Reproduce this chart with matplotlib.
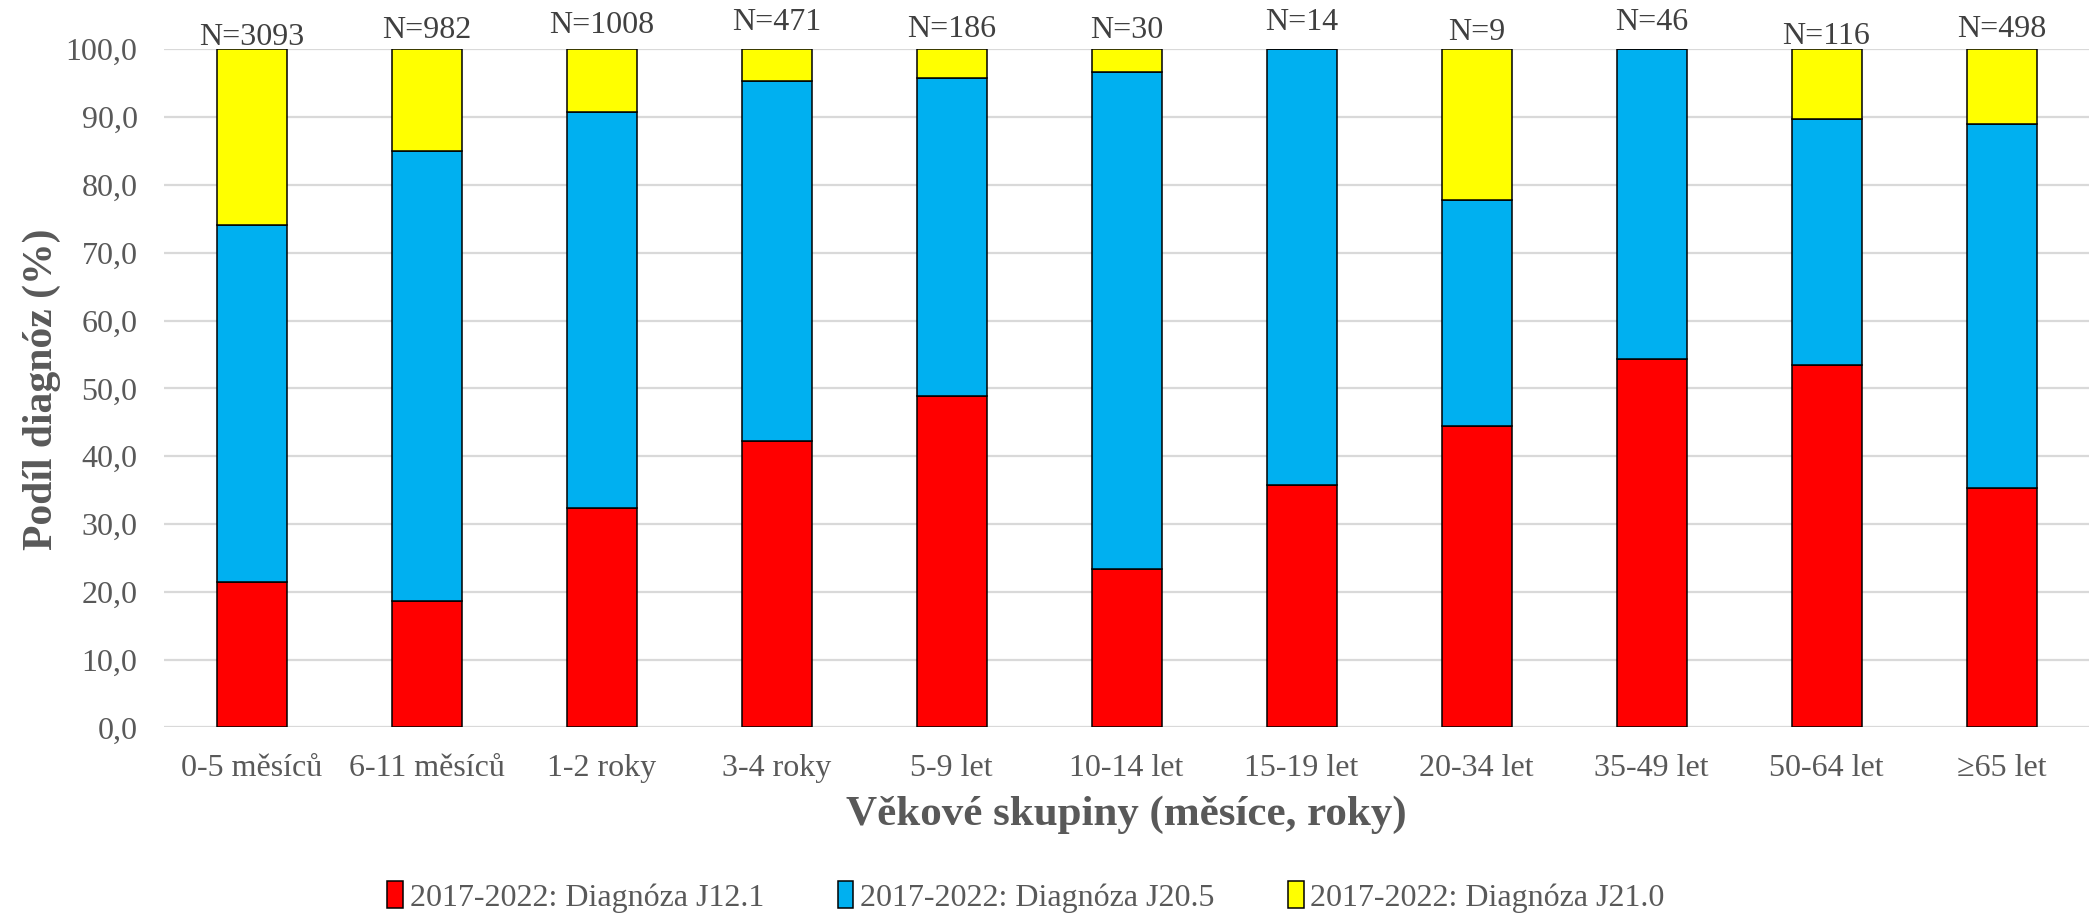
import matplotlib
matplotlib.use('Agg')
import matplotlib.pyplot as plt
from matplotlib.patches import Patch
import numpy as np

plt.rcParams['font.family'] = ['Liberation Serif', 'DejaVu Serif']

# Age groups and counts
categories = ['0-5 měsíců', '6-11 měsíců', '1-2 roky', '3-4 roky', '5-9 let',
              '10-14 let', '15-19 let', '20-34 let', '35-49 let', '50-64 let', '≥65 let']
n_counts = [3093, 982, 1008, 471, 186, 30, 14, 9, 46, 116, 498]

# Share of diagnoses (%)
j121 = [21.4, 18.6, 32.4, 42.2, 48.9, 23.3, 35.7, 44.4, 54.3, 53.4, 35.3]
j205 = [52.7, 66.4, 58.4, 53.1, 46.8, 73.4, 64.3, 33.4, 45.7, 36.3, 53.7]
j210 = [25.9, 15.0, 9.2, 4.7, 4.3, 3.3, 0.0, 22.2, 0.0, 10.3, 11.0]

series_names = ['2017-2022: Diagnóza J12.1', '2017-2022: Diagnóza J20.5',
                '2017-2022: Diagnóza J21.0']
colors = ['#ff0000', '#00b0f0', '#ffff00']

# label offsets above 100 % (points), like the hand-placed labels in the original
label_dy = [-9, -4, 0, 2, -3, -4, 2, -5, 2, -8, -3]

text_gray = '#595959'

fig = plt.figure(figsize=(20.89, 9.14), dpi=100)
ax = fig.add_axes([164 / 2089, (914 - 727.4) / 914, (2089 - 164) / 2089, (727.4 - 49.3) / 914])

x = np.arange(len(categories))
bottom = np.zeros(len(categories))
for vals, col in zip([j121, j205, j210], colors):
    vals = np.array(vals)
    ax.bar(x, vals, width=0.4, bottom=bottom, color=col,
           edgecolor='black', linewidth=1.1, zorder=3)
    bottom += vals

for xi, n, dy in zip(x, n_counts, label_dy):
    ax.annotate(f'N={n}', (xi, 100), xytext=(0, 7 + dy), textcoords='offset points',
                ha='center', va='bottom', fontsize=23, color='#404040')

ax.set_xlim(-0.5, len(categories) - 0.5)
ax.set_ylim(0, 100)
ax.set_yticks(np.arange(0, 101, 10))
ax.set_yticklabels([f'{v:.1f}'.replace('.', ',') for v in np.arange(0, 101, 10)])
ax.set_xticks(x)
ax.set_xticklabels(categories)
ax.tick_params(axis='both', length=0, labelsize=23, labelcolor=text_gray)
ax.tick_params(axis='y', pad=19)
ax.tick_params(axis='x', pad=19)
ax.yaxis.grid(True, color='#d9d9d9', linewidth=1.6, zorder=0)
ax.set_axisbelow(True)
for s in ax.spines.values():
    s.set_visible(False)

fig.text(1126 / 2089, 1 - 815 / 914, 'Věkové skupiny (měsíce, roky)', ha='center', va='center',
         fontsize=31, fontweight='bold', color=text_gray)
fig.text(42 / 2089, 1 - 389 / 914, 'Podíl diagnóz (%)', ha='center', va='center',
         rotation=90, fontsize=30, fontweight='bold', color=text_gray)

handles = [Patch(facecolor=c, edgecolor='black', linewidth=1.1) for c in colors]
fig.legend(handles, series_names, loc='center', bbox_to_anchor=(1026 / 2089, 1 - 897 / 914),
           ncol=3, frameon=False, fontsize=23, labelcolor=text_gray,
           handlelength=0.5, handleheight=0.9, handletextpad=0.2, columnspacing=2.3)

fig.savefig('out.png', dpi=100)
